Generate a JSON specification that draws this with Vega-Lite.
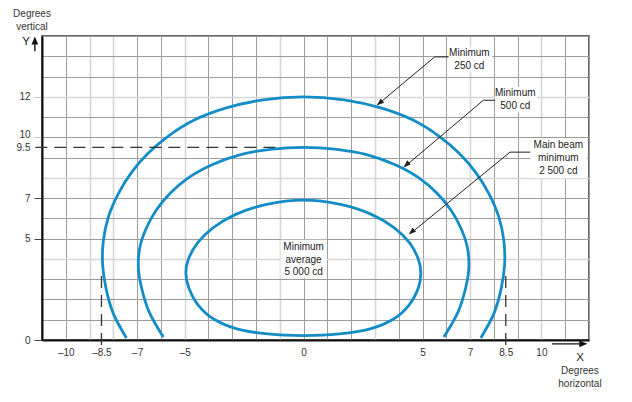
{
  "$schema": "https://vega.github.io/schema/vega-lite/v6.json",
  "width": 547,
  "height": 304,
  "autosize": "none",
  "padding": {"left": 42, "top": 36, "right": 43, "bottom": 62},
  "background": "white",
  "config": {
    "view": {"stroke": "#333", "strokeWidth": 1.5},
    "font": "Liberation Sans",
    "text": {"font": "Liberation Sans"}
  },
  "datasets": {
    "boxes": [
      {"x": 6.08, "x2": 7.93, "y": 13.21, "y2": 14.44},
      {"x": 8.05, "x2": 9.8, "y": 11.25, "y2": 12.48},
      {"x": 9.53, "x2": 11.9, "y": 7.98, "y2": 9.95},
      {"x": -0.97, "x2": 0.97, "y": 3.05, "y2": 4.95}
    ],
    "curves": [
      {"curve": "250", "i": 0, "x": -7.45, "y": 0.1},
      {"curve": "250", "i": 1, "x": -8.0, "y": 1.3},
      {"curve": "250", "i": 2, "x": -8.3, "y": 2.5},
      {"curve": "250", "i": 3, "x": -8.45, "y": 3.7},
      {"curve": "250", "i": 4, "x": -8.42, "y": 4.9},
      {"curve": "250", "i": 5, "x": -8.2, "y": 6.1},
      {"curve": "250", "i": 6, "x": -7.8, "y": 7.2},
      {"curve": "250", "i": 7, "x": -7.25, "y": 8.25},
      {"curve": "250", "i": 8, "x": -6.55, "y": 9.2},
      {"curve": "250", "i": 9, "x": -5.7, "y": 10.05},
      {"curve": "250", "i": 10, "x": -4.6, "y": 10.85},
      {"curve": "250", "i": 11, "x": -3.25, "y": 11.45},
      {"curve": "250", "i": 12, "x": -1.7, "y": 11.85},
      {"curve": "250", "i": 13, "x": 0, "y": 12.0},
      {"curve": "250", "i": 14, "x": 1.7, "y": 11.85},
      {"curve": "250", "i": 15, "x": 3.25, "y": 11.45},
      {"curve": "250", "i": 16, "x": 4.6, "y": 10.85},
      {"curve": "250", "i": 17, "x": 5.7, "y": 10.05},
      {"curve": "250", "i": 18, "x": 6.55, "y": 9.2},
      {"curve": "250", "i": 19, "x": 7.25, "y": 8.25},
      {"curve": "250", "i": 20, "x": 7.8, "y": 7.2},
      {"curve": "250", "i": 21, "x": 8.2, "y": 6.1},
      {"curve": "250", "i": 22, "x": 8.42, "y": 4.9},
      {"curve": "250", "i": 23, "x": 8.45, "y": 3.7},
      {"curve": "250", "i": 24, "x": 8.3, "y": 2.5},
      {"curve": "250", "i": 25, "x": 8.0, "y": 1.3},
      {"curve": "250", "i": 26, "x": 7.45, "y": 0.1},
      {"curve": "500", "i": 0, "x": -5.9, "y": 0.15},
      {"curve": "500", "i": 1, "x": -6.5, "y": 1.4},
      {"curve": "500", "i": 2, "x": -6.82, "y": 2.6},
      {"curve": "500", "i": 3, "x": -6.95, "y": 3.6},
      {"curve": "500", "i": 4, "x": -6.88, "y": 4.6},
      {"curve": "500", "i": 5, "x": -6.62, "y": 5.5},
      {"curve": "500", "i": 6, "x": -6.2, "y": 6.4},
      {"curve": "500", "i": 7, "x": -5.6, "y": 7.25},
      {"curve": "500", "i": 8, "x": -4.85, "y": 8.0},
      {"curve": "500", "i": 9, "x": -3.85, "y": 8.65},
      {"curve": "500", "i": 10, "x": -2.65, "y": 9.15},
      {"curve": "500", "i": 11, "x": -1.3, "y": 9.42},
      {"curve": "500", "i": 12, "x": 0, "y": 9.5},
      {"curve": "500", "i": 13, "x": 1.3, "y": 9.42},
      {"curve": "500", "i": 14, "x": 2.65, "y": 9.15},
      {"curve": "500", "i": 15, "x": 3.85, "y": 8.65},
      {"curve": "500", "i": 16, "x": 4.85, "y": 8.0},
      {"curve": "500", "i": 17, "x": 5.6, "y": 7.25},
      {"curve": "500", "i": 18, "x": 6.2, "y": 6.4},
      {"curve": "500", "i": 19, "x": 6.62, "y": 5.5},
      {"curve": "500", "i": 20, "x": 6.88, "y": 4.6},
      {"curve": "500", "i": 21, "x": 6.95, "y": 3.6},
      {"curve": "500", "i": 22, "x": 6.82, "y": 2.6},
      {"curve": "500", "i": 23, "x": 6.5, "y": 1.4},
      {"curve": "500", "i": 24, "x": 5.9, "y": 0.15},
      {"curve": "inner", "i": 0, "x": 0, "y": 6.9},
      {"curve": "inner", "i": 1, "x": 1.6, "y": 6.68},
      {"curve": "inner", "i": 2, "x": 2.85, "y": 6.2},
      {"curve": "inner", "i": 3, "x": 3.8, "y": 5.55},
      {"curve": "inner", "i": 4, "x": 4.45, "y": 4.8},
      {"curve": "inner", "i": 5, "x": 4.82, "y": 4.0},
      {"curve": "inner", "i": 6, "x": 4.93, "y": 3.3},
      {"curve": "inner", "i": 7, "x": 4.82, "y": 2.55},
      {"curve": "inner", "i": 8, "x": 4.45, "y": 1.75},
      {"curve": "inner", "i": 9, "x": 3.8, "y": 1.05},
      {"curve": "inner", "i": 10, "x": 2.8, "y": 0.55},
      {"curve": "inner", "i": 11, "x": 1.5, "y": 0.3},
      {"curve": "inner", "i": 12, "x": 0, "y": 0.22},
      {"curve": "inner", "i": 13, "x": -1.5, "y": 0.3},
      {"curve": "inner", "i": 14, "x": -2.8, "y": 0.55},
      {"curve": "inner", "i": 15, "x": -3.8, "y": 1.05},
      {"curve": "inner", "i": 16, "x": -4.45, "y": 1.75},
      {"curve": "inner", "i": 17, "x": -4.82, "y": 2.55},
      {"curve": "inner", "i": 18, "x": -4.95, "y": 3.3},
      {"curve": "inner", "i": 19, "x": -4.84, "y": 4.0},
      {"curve": "inner", "i": 20, "x": -4.45, "y": 4.8},
      {"curve": "inner", "i": 21, "x": -3.8, "y": 5.55},
      {"curve": "inner", "i": 22, "x": -2.85, "y": 6.2},
      {"curve": "inner", "i": 23, "x": -1.6, "y": 6.68}
    ],
    "guides": [
      {"x": -11.28, "x2": -1.0, "y": 9.5, "y2": 9.5},
      {"x": -8.5, "x2": -8.5, "y": -0.25, "y2": 3.4},
      {"x": 8.5, "x2": 8.5, "y": -0.25, "y2": 3.4}
    ],
    "leaders": [
      {"id": "a", "i": 0, "x": 6.1, "y": 13.97},
      {"id": "a", "i": 1, "x": 5.51, "y": 13.97},
      {"id": "a", "i": 2, "x": 3.1, "y": 11.6},
      {"id": "b", "i": 0, "x": 8.05, "y": 11.83},
      {"id": "b", "i": 1, "x": 7.56, "y": 11.83},
      {"id": "b", "i": 2, "x": 4.25, "y": 8.55},
      {"id": "c", "i": 0, "x": 9.53, "y": 9.27},
      {"id": "c", "i": 1, "x": 8.68, "y": 9.27},
      {"id": "c", "i": 2, "x": 4.5, "y": 5.26}
    ],
    "heads": [
      {"x": 3.08, "y": 11.58},
      {"x": 4.2, "y": 8.53},
      {"x": 4.42, "y": 5.22}
    ],
    "axisShafts": [
      {"x": -11.3, "x2": -11.3, "y": 14.25, "y2": 14.8},
      {"x": 10.44, "x2": 11.8, "y": -0.19, "y2": -0.19}
    ],
    "axisHeads": [
      {"axis": "Y", "x": -11.3, "y": 14.97},
      {"axis": "X", "x": 11.93, "y": -0.19}
    ],
    "notes": [
      {"text": "Minimum\n250 cd", "x": 6.97, "y": 14.17},
      {"text": "Minimum\n500 cd", "x": 8.9, "y": 12.17},
      {"text": "Main beam\nminimum\n2 500 cd", "x": 10.71, "y": 9.62},
      {"text": "Minimum\naverage\n5 000 cd", "x": 0, "y": 4.6}
    ],
    "titles": [
      {"text": "Degrees\nvertical", "x": -11.42, "y": 16.08},
      {"text": "Degrees\nhorizontal", "x": 11.62, "y": -1.53}
    ],
    "letters": [
      {"text": "Y", "x": -11.67, "y": 14.72},
      {"text": "X", "x": 11.63, "y": -0.9}
    ]
  },
  "encoding": {
    "x": {
      "field": "x", "type": "quantitative",
      "scale": {"domain": [-11, 12], "nice": false, "zero": false},
      "axis": {
        "title": null,
        "values": [-11, -10, -9, -8.5, -8, -7, -6, -5, -4, -3, -2, -1, 0, 1, 2, 3, 4, 5, 6, 7, 8, 8.5, 9, 10, 11, 12],
        "grid": true,
        "ticks": false,
        "tickSize": 0,
        "labelPadding": 7,
        "labelFontSize": 10,
        "labelColor": "#333",
        "labelOverlap": false,
        "labelFlush": false,
        "labelBound": false,
        "labelExpr": "indexof([-10,-8.5,-7,-5,0,5,7,8.5,10], datum.value) >= 0 ? (datum.value < 0 ? '–' + format(-datum.value, '~g') : format(datum.value, '~g')) : ''",
        "domainColor": "#111",
        "domainWidth": 2,
        "gridColor": {"condition": {"test": "indexof([-9,-8,-5,-1,3,7,10], datum.value) >= 0", "value": "#d6d6d6"}, "value": "#9c9c9c"},
        "gridWidth": {"condition": {"test": "indexof([-9,-8,-5,-1,3,7,10], datum.value) >= 0", "value": 1.6}, "value": 1},
        "gridOpacity": {"condition": {"test": "abs(datum.value) == 8.5", "value": 0}, "value": 1}
      }
    },
    "y": {
      "field": "y", "type": "quantitative",
      "scale": {"domain": [0, 15], "nice": false, "zero": false},
      "axis": {
        "title": null,
        "values": [0, 1, 2, 3, 4, 5, 6, 7, 8, 9, 9.5, 10, 11, 12, 13, 14, 15],
        "grid": true,
        "ticks": true,
        "tickSize": 8,
        "labelPadding": 4,
        "labelFontSize": 10,
        "labelColor": "#333",
        "labelOverlap": false,
        "labelFlush": false,
        "labelBound": false,
        "labelExpr": "indexof([0,5,7,9.5,10,12], datum.value) >= 0 ? format(datum.value, '~g') : ''",
        "domainColor": "#111",
        "domainWidth": 2,
        "tickColor": {"condition": {"test": "datum.value >= 10", "value": "#c4c4c4"}, "value": "#444"},
        "tickOpacity": {"condition": {"test": "indexof([0,5,7,10,12], datum.value) >= 0", "value": 1}, "value": 0},
        "gridColor": {"condition": {"test": "indexof([4,8,12], datum.value) >= 0", "value": "#d6d6d6"}, "value": "#9c9c9c"},
        "gridWidth": {"condition": {"test": "indexof([4,8,12], datum.value) >= 0", "value": 1.6}, "value": 1},
        "gridOpacity": {"condition": {"test": "datum.value == 9.5", "value": 0}, "value": 1},
        "labelOffset": {"condition": {"test": "datum.value == 10", "value": -3}, "value": 0}
      }
    }
  },
  "layer": [
    {
      "data": {"name": "boxes"},
      "mark": {"type": "rect", "fill": "white"},
      "encoding": {
        "x2": {"field": "x2"},
        "y2": {"field": "y2"}
      }
    },
    {
      "data": {"name": "curves"},
      "transform": [{"filter": "datum.curve != 'inner'"}],
      "mark": {"type": "line", "interpolate": "catmull-rom", "strokeWidth": 2.8, "color": "#148cc8"},
      "encoding": {
        "detail": {"field": "curve"},
        "order": {"field": "i", "type": "quantitative"}
      }
    },
    {
      "data": {"name": "curves"},
      "transform": [{"filter": "datum.curve == 'inner'"}],
      "mark": {"type": "line", "interpolate": "cardinal-closed", "strokeWidth": 2.8, "color": "#148cc8"},
      "encoding": {
        "order": {"field": "i", "type": "quantitative"}
      }
    },
    {
      "data": {"name": "guides"},
      "mark": {"type": "rule", "strokeDash": [12, 7], "color": "#333", "strokeWidth": 1.3},
      "encoding": {
        "x2": {"field": "x2"},
        "y2": {"field": "y2"}
      }
    },
    {
      "data": {"name": "leaders"},
      "mark": {"type": "line", "color": "#222", "strokeWidth": 1},
      "encoding": {
        "detail": {"field": "id"},
        "order": {"field": "i", "type": "quantitative"}
      }
    },
    {
      "data": {"name": "heads"},
      "mark": {"type": "point", "shape": "M0,0L-0.38,1L0.38,1Z", "angle": 230, "filled": true, "opacity": 1, "color": "#222", "size": 210, "strokeWidth": 0},
      "encoding": {}
    },
    {
      "data": {"name": "axisShafts"},
      "mark": {"type": "rule", "color": "#111", "strokeWidth": 1.4},
      "encoding": {
        "x2": {"field": "x2"},
        "y2": {"field": "y2"}
      }
    },
    {
      "data": {"name": "axisHeads"},
      "transform": [{"filter": "datum.axis == 'Y'"}],
      "mark": {"type": "point", "shape": "M0,0L-0.42,1L0.42,1Z", "angle": 0, "filled": true, "opacity": 1, "color": "#111", "size": 256, "strokeWidth": 0},
      "encoding": {}
    },
    {
      "data": {"name": "axisHeads"},
      "transform": [{"filter": "datum.axis == 'X'"}],
      "mark": {"type": "point", "shape": "M0,0L-0.42,1L0.42,1Z", "angle": 90, "filled": true, "opacity": 1, "color": "#111", "size": 256, "strokeWidth": 0},
      "encoding": {}
    },
    {
      "data": {"name": "notes"},
      "mark": {"type": "text", "align": "center", "baseline": "middle", "fontSize": 10, "lineHeight": 12.8, "lineBreak": "\n", "color": "#222"},
      "encoding": {
        "text": {"field": "text"}
      }
    },
    {
      "data": {"name": "titles"},
      "mark": {"type": "text", "align": "center", "baseline": "middle", "fontSize": 10, "lineHeight": 12.5, "lineBreak": "\n", "color": "#333"},
      "encoding": {
        "text": {"field": "text"}
      }
    },
    {
      "data": {"name": "letters"},
      "mark": {"type": "text", "align": "center", "baseline": "middle", "fontSize": 11.5, "color": "#222"},
      "encoding": {
        "text": {"field": "text"}
      }
    }
  ]
}
